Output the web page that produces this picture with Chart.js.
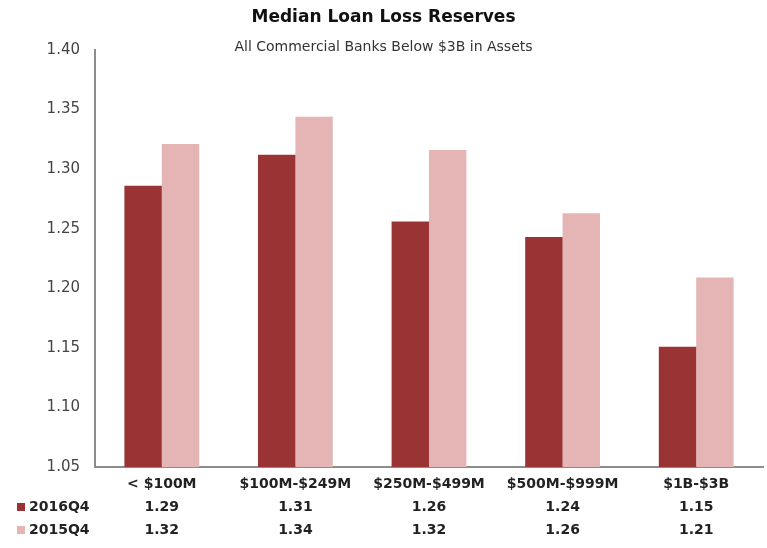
<!DOCTYPE html>
<html>
<head>
<meta charset="utf-8">
<script src="https://cdn.jsdelivr.net/npm/chart.js@4"></script>
<style>
  html, body { margin: 0; padding: 0; background: #fff; }
  #wrap { width: 767px; height: 548px; position: relative; }
</style>
</head>
<body>
<div id="wrap"><canvas id="lossChart"></canvas></div>
<script>
const chartTitle = "Median Loan Loss Reserves"
const chartSubtitle = "All Commercial Banks Below $3B in Assets"
const categories = ["< $100M", "$100M-$249M", "$250M-$499M", "$500M-$999M", "$1B-$3B"]
const seriesNames = ["2016Q4", "2015Q4"]
const reserves2016 = [1.286, 1.312, 1.256, 1.243, 1.151]
const reserves2015 = [1.321, 1.344, 1.316, 1.263, 1.209]
const yMin = 1.05
const yMax = 1.40
const yStep = 0.05

const darkRed = "rgb(154, 51, 52)"
const pink = "rgb(229, 181, 181)"
const axisGrey = "#8c8c8c"
const fontFamily = '"DejaVu Sans", Verdana, sans-serif'

// title, subtitle and the row labels of the data table under the axis
const extraText = {
    id: 'extraText',
    afterDraw(chart) {
        const ctx = chart.ctx
        const cx = chart.width / 2
        ctx.save()
        ctx.textAlign = 'center'
        ctx.textBaseline = 'middle'
        ctx.fillStyle = '#111'
        ctx.font = 'bold 17px ' + fontFamily
        ctx.fillText(chartTitle, cx, 18)
        ctx.fillStyle = '#333'
        ctx.font = '14px ' + fontFamily
        ctx.fillText(chartSubtitle, cx, 47)

        const rowY = [507, 530]
        const colors = [darkRed, pink]
        ctx.textAlign = 'left'
        ctx.font = 'bold 14px ' + fontFamily
        for (let i = 0; i < seriesNames.length; i++) {
            ctx.fillStyle = colors[i]
            ctx.fillRect(17, rowY[i] - 4, 8, 8)
            ctx.fillStyle = '#222'
            ctx.fillText(seriesNames[i], 29, rowY[i])
        }
        ctx.restore()
    }
}

const canvas = document.getElementById('lossChart')
const lossChart = new Chart(canvas.getContext('2d'), {
    type: 'bar',
    data: {
        labels: categories,
        datasets: [{
            label: seriesNames[0],
            data: reserves2016,
            backgroundColor: darkRed,
        }, {
            label: seriesNames[1],
            data: reserves2015,
            backgroundColor: pink,
        }]
    },
    options: {
        responsive: true,
        maintainAspectRatio: false,
        animation: false,
        layout: {
            padding: {top: 50, right: 4, bottom: 0, left: 0}
        },
        plugins: {
            legend: {display: false},
            tooltip: {enabled: false},
            title: {display: false}
        },
        datasets: {
            bar: {
                categoryPercentage: 0.56,
                barPercentage: 1.0,
            }
        },
        scales: {
            x: {
                grid: {display: false, drawTicks: false},
                border: {display: true, color: axisGrey, width: 2},
                afterFit(scale) { scale.height = 81 },
                ticks: {
                    padding: 6,
                    color: '#222',
                    font: {family: fontFamily, size: 14, weight: 'bold', lineHeight: 1.65},
                    maxRotation: 0,
                    autoSkip: false,
                    callback(value, index) {
                        return [categories[index], reserves2016[index].toFixed(2), reserves2015[index].toFixed(2)]
                    }
                }
            },
            y: {
                min: yMin,
                max: yMax,
                grid: {display: false, drawTicks: false},
                border: {display: true, color: axisGrey, width: 2},
                afterFit(scale) { scale.width = 95 },
                ticks: {
                    stepSize: yStep,
                    padding: 15,
                    color: '#444',
                    font: {family: fontFamily, size: 15},
                    callback(value) { return value.toFixed(2) }
                }
            }
        }
    },
    plugins: [extraText]
})
</script>
</body>
</html>
